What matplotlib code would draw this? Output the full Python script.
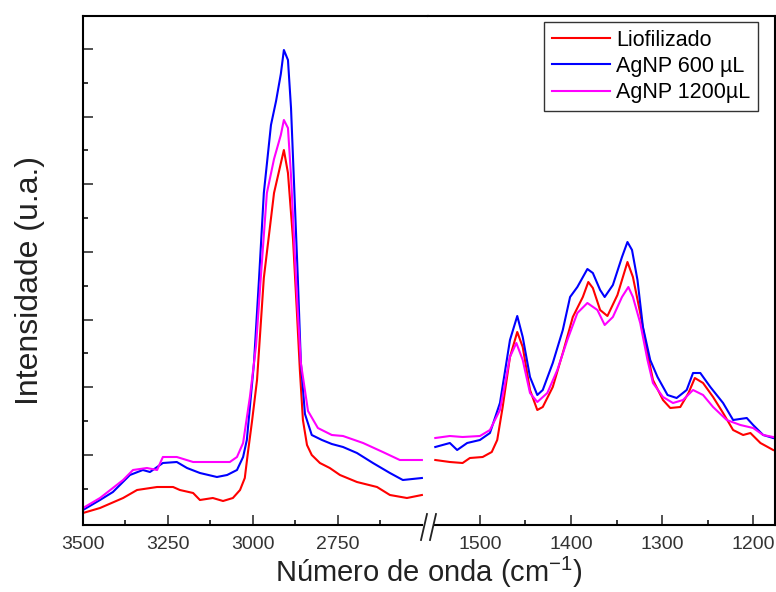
import matplotlib.pyplot as plt
import numpy as np
from matplotlib.lines import Line2D
from matplotlib.patches import Rectangle

plt.rcParams['font.family'] = ['Liberation Sans', 'DejaVu Sans']

# High wavenumber region (cm-1) and intensities (a.u.)
red_wn_hi = [3500, 3450, 3382, 3341, 3282, 3235, 3215, 3176, 3156, 3118, 3088, 3059, 3038, 3024,
             3015, 3003, 2988, 2968, 2938, 2909, 2897, 2882, 2871, 2862, 2853, 2841, 2827, 2803,
             2774, 2744, 2694, 2635, 2597, 2547, 2503]
red_hi = [12, 17, 27, 35, 38, 38, 35, 32, 25, 27, 24, 27, 35, 47, 72, 103, 145, 247, 332, 375, 352,
          285, 215, 155, 105, 80, 70, 62, 57, 50, 43, 38, 30, 27, 30]

blue_wn_hi = [3500, 3450, 3412, 3362, 3324, 3303, 3265, 3224, 3194, 3156, 3106, 3076, 3047, 3029,
              3018, 2997, 2982, 2968, 2947, 2932, 2918, 2909, 2897, 2888, 2876, 2868, 2859, 2847,
              2827, 2797, 2768, 2735, 2694, 2647, 2597, 2559, 2503]
blue_hi = [15, 25, 33, 50, 55, 53, 62, 63, 57, 52, 48, 50, 55, 68, 85, 162, 247, 332, 400, 424, 451,
           475, 465, 417, 315, 247, 162, 111, 90, 85, 81, 78, 72, 62, 52, 45, 47]

mag_wn_hi = [3500, 3450, 3382, 3353, 3312, 3282, 3265, 3224, 3176, 3118, 3068, 3047, 3029, 3009,
             2991, 2977, 2959, 2938, 2918, 2909, 2897, 2888, 2876, 2868, 2859, 2838, 2809, 2768,
             2735, 2676, 2618, 2568, 2503]
mag_hi = [17, 27, 45, 55, 57, 55, 68, 68, 63, 63, 63, 68, 82, 128, 179, 247, 332, 366, 390, 405, 397,
          349, 264, 213, 162, 114, 97, 90, 89, 82, 73, 65, 65]

# Fingerprint region
red_wn_lo = [1549, 1533, 1519, 1511, 1497, 1487, 1481, 1475, 1467, 1459, 1453, 1445, 1437, 1431,
             1420, 1409, 1398, 1387, 1381, 1376, 1368, 1360, 1349, 1338, 1332, 1324, 1316, 1310,
             1299, 1291, 1280, 1271, 1264, 1255, 1244, 1233, 1222, 1211, 1203, 1192, 1178]
red_lo = [65, 63, 62, 67, 68, 73, 85, 118, 168, 193, 178, 135, 115, 118, 138, 172, 208, 228, 243,
          237, 215, 209, 230, 263, 248, 212, 172, 145, 125, 117, 118, 132, 147, 142, 128, 112, 95,
          90, 92, 82, 75]

blue_wn_lo = [1549, 1533, 1525, 1514, 1500, 1489, 1478, 1467, 1459, 1453, 1445, 1437, 1431, 1420,
              1409, 1401, 1393, 1382, 1376, 1368, 1363, 1354, 1344, 1338, 1333, 1327, 1321, 1313,
              1305, 1294, 1284, 1273, 1266, 1258, 1247, 1233, 1222, 1207, 1200, 1189, 1178]
blue_lo = [78, 82, 75, 82, 85, 92, 122, 185, 209, 188, 148, 130, 135, 162, 195, 228, 238, 256, 252,
           235, 228, 240, 268, 283, 275, 245, 198, 165, 148, 130, 127, 135, 152, 152, 138, 122, 105,
           107, 100, 90, 87]

mag_wn_lo = [1549, 1533, 1519, 1500, 1489, 1478, 1467, 1460, 1453, 1445, 1437, 1426, 1415, 1404,
             1393, 1382, 1371, 1363, 1354, 1344, 1337, 1332, 1324, 1316, 1310, 1299, 1288, 1277,
             1266, 1255, 1244, 1229, 1214, 1200, 1189, 1178]
mag_lo = [87, 89, 88, 89, 95, 115, 168, 182, 165, 132, 123, 132, 155, 185, 212, 222, 215, 200, 208,
          228, 238, 228, 202, 165, 142, 128, 122, 125, 135, 130, 118, 105, 100, 97, 90, 88]

labels = ['Liofilizado', 'AgNP 600 µL', 'AgNP 1200µL']
colors = ['#ff0000', '#0000ff', '#ff00ff']

fig = plt.figure(figsize=(7.76, 5.92), dpi=100)
y0, h = 1 - 525 / 592, 509 / 592
ax1 = fig.add_axes([83 / 776, y0, 345 / 776, h])
ax2 = fig.add_axes([428 / 776, y0, 347 / 776, h])

hi = [(red_wn_hi, red_hi), (blue_wn_hi, blue_hi), (mag_wn_hi, mag_hi)]
lo = [(red_wn_lo, red_lo), (blue_wn_lo, blue_lo), (mag_wn_lo, mag_lo)]
for (x, y), c in zip(hi, colors):
    ax1.plot(x, y, color=c, lw=1.5)
for (x, y), c in zip(lo, colors):
    ax2.plot(x, y, color=c, lw=1.5)

ax1.set_xlim(3500, 2485)
ax2.set_xlim(1557, 1176)
for ax in (ax1, ax2):
    ax.set_ylim(0, 509)
    for s in ax.spines.values():
        s.set_linewidth(1.5)
    ax.tick_params(direction='in', which='major', length=7, width=1.1, labelsize=14,
                   colors='#222222', pad=8)
    ax.tick_params(direction='in', which='minor', length=3.5, width=1.1)
    ax.tick_params(axis='x', labelcolor='#333333')

ax1.spines['right'].set_visible(False)
ax2.spines['left'].set_visible(False)

ax1.set_xticks([3500, 3250, 3000, 2750])
ax1.set_xticks([3375, 3125, 2875, 2625], minor=True)
ax2.set_xticks([1500, 1400, 1300, 1200])
ax2.set_xticks([1450, 1350, 1250], minor=True)

ax1.set_yticks(np.arange(70, 509, 67.7))
ax1.set_yticks(np.arange(36.15, 509, 67.7), minor=True)
ax1.tick_params(axis='y', labelleft=False)
ax2.tick_params(axis='y', which='both', left=False, labelleft=False)

# break marks on the bottom axis
fig.patches.append(Rectangle((423 / 776, y0 - 0.006), 10 / 776, 0.012, transform=fig.transFigure,
                             facecolor='white', edgecolor='none', zorder=5))
for xb in (421, 430):
    fig.lines.append(Line2D([xb / 776, (xb + 6) / 776], [y0 - 15 / 592, y0 + 11 / 592],
                            transform=fig.transFigure, color='#222222', lw=1.3, zorder=6))

fig.text(0.5 * (83 + 775) / 776, 0.017, 'Número de onda (cm$^{\\mathregular{-1}}$)',
         ha='center', va='baseline', fontsize=21, color='#222222')
fig.text(30 / 776, 1 - 280 / 592, 'Intensidade (u.a.)', rotation=90, ha='center', va='center',
         fontsize=23, color='#222222')

handles = [Line2D([], [], color=c, lw=1.5) for c in colors]
ax2.legend(handles, labels, loc='upper right', bbox_to_anchor=(0.951, 0.988), borderaxespad=0,
           fontsize=15.5, frameon=True, fancybox=False, edgecolor='#333333', framealpha=1,
           handlelength=2.7, labelspacing=0.25, handletextpad=0.3, borderpad=0.35)

fig.savefig('out.png', dpi=100)
